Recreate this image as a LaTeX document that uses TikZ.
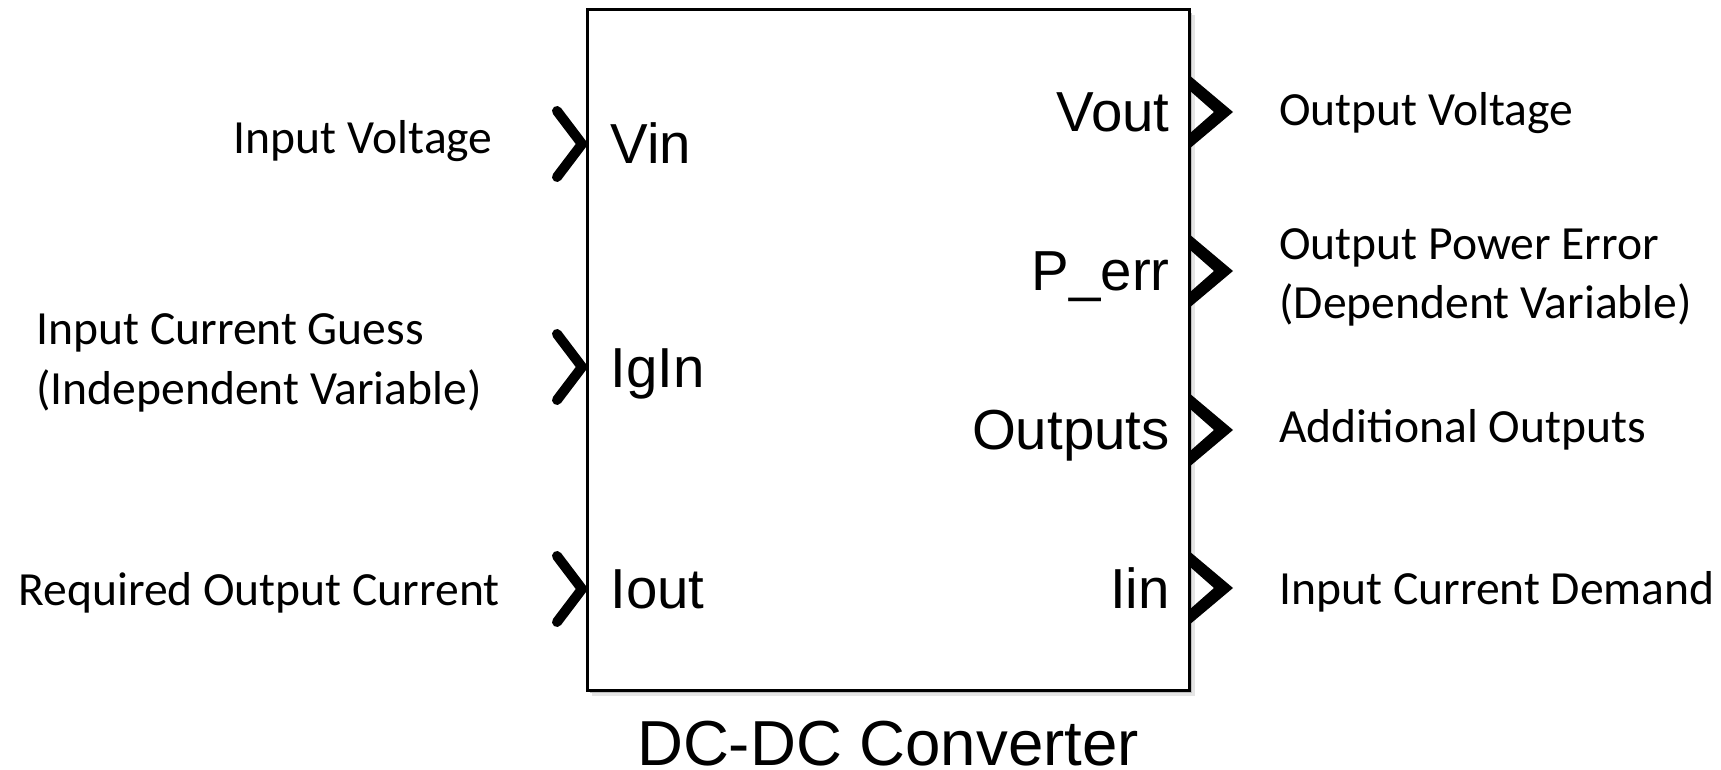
\documentclass[tikz,border=0pt]{standalone}
\usepackage{fontspec}
\setmainfont{Carlito}
\newfontfamily\portfont{Liberation Sans}
\usepackage{tikz}
\usetikzlibrary{calc}
\tikzset{
  sidelabel/.style={inner sep=0pt,font=\fontsize{23.8}{29}\selectfont},
  portlabel/.style={inner sep=0pt,font=\portfont\fontsize{28.2}{34}\selectfont},
  inport/.style={line width=5pt,line cap=round,line join=round},
}

\begin{document}
\begin{tikzpicture}[x=0.5pt,y=-0.5pt]
\useasboundingbox (0,0) rectangle (1721,770);
% block with a soft shadow
\fill[black!10] (592,15) rectangle (1195,696);
\fill[black!25] (590,13) rectangle (1192,693);
\draw[line width=1.5pt,fill=white] (587,10) rectangle (1189,690);
\node[portlabel,anchor=base,font=\portfont\fontsize{31.8}{38}\selectfont] (title) at (888,765) {DC-DC Converter};
% input ports
\foreach \y/\name in {144/vin,367/igin,589/iout}{
  \draw[inport] (557,\y-33) -- (582,\y) -- (557,\y+33);
}
\node[portlabel,anchor=base west] (vin) at (610,164) {Vin};
\node[portlabel,anchor=base west] (igin) at (610,388) {IgIn};
\node[portlabel,anchor=base west] (iout) at (610,609) {Iout};
% output ports
\foreach \y in {112,271,430,588}{
  \fill (1189,\y-37) -- (1233,\y) -- (1189,\y+37) -- (1189,\y+22) -- (1214,\y) -- (1189,\y-22) -- cycle;
}
\node[portlabel,anchor=base east] (vout) at (1170,132) {Vout};
\node[portlabel,anchor=base east] (perr) at (1170,291) {P\_err};
\node[portlabel,anchor=base east] (outs) at (1170,450) {Outputs};
\node[portlabel,anchor=base east] (iin) at (1170,609) {Iin};
% signal descriptions
\node[sidelabel,anchor=base east] (vinlbl) at (493,154) {Input Voltage};
\node[sidelabel,anchor=base west] (iginlbl) at (36,345) {Input Current Guess};
\node[sidelabel,anchor=base west] (iginlbl2) at (36,405) {(Independent Variable)};
\node[sidelabel,anchor=base west] (ioutlbl) at (18,605) {Required Output Current};
\node[sidelabel,anchor=base west] (voutlbl) at (1279,126) {Output Voltage};
\node[sidelabel,anchor=base west] (perrlbl) at (1279,260) {Output Power Error};
\node[sidelabel,anchor=base west] (perrlbl2) at (1279,319) {(Dependent Variable)};
\node[sidelabel,anchor=base west] (outslbl) at (1279,443) {Additional Outputs};
\node[sidelabel,anchor=base west] (iinlbl) at (1279,604) {Input Current Demand};
\end{tikzpicture}
\end{document}
